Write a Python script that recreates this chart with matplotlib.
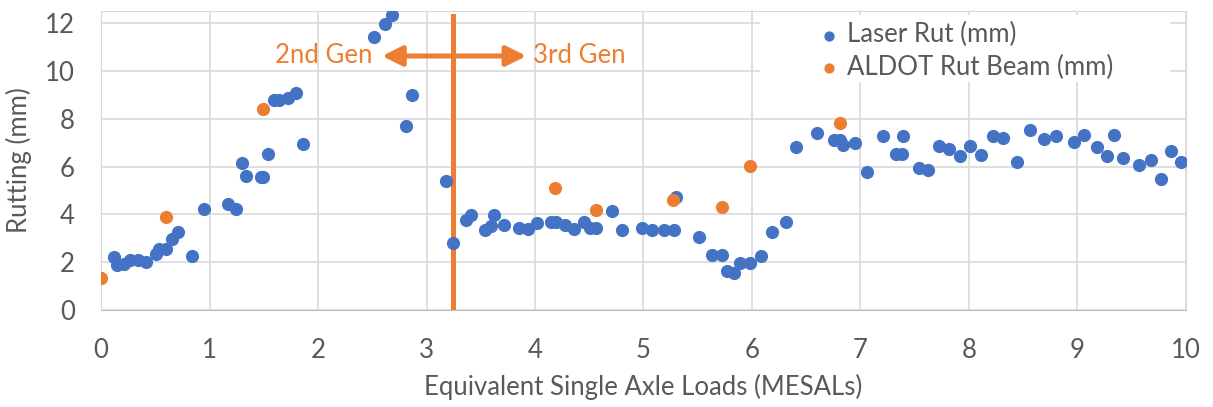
import matplotlib.pyplot as plt
from matplotlib.patches import Rectangle

plt.rcParams['font.family'] = ['Lato', 'DejaVu Sans']

# data
laser_x = [0.12, 0.15, 0.21, 0.27, 0.34, 0.41, 0.51, 0.53, 0.60, 0.65, 0.71, 0.84, 0.95,
           1.17, 1.24, 1.30, 1.34, 1.47, 1.49, 1.54, 1.59, 1.64, 1.72, 1.80, 1.86,
           2.52, 2.62, 2.68, 2.81, 2.87, 3.18, 3.24, 3.36, 3.41, 3.54, 3.59, 3.62, 3.71,
           3.85, 3.94, 4.02, 4.15, 4.19, 4.28, 4.36, 4.45, 4.51, 4.56, 4.71, 4.80, 4.99,
           5.08, 5.19, 5.28, 5.30, 5.51, 5.63, 5.72, 5.77, 5.83, 5.89, 5.98, 6.08, 6.18,
           6.31, 6.41, 6.60, 6.76, 6.81, 6.84, 6.95, 7.06, 7.21, 7.33, 7.38, 7.39, 7.54,
           7.62, 7.72, 7.82, 7.92, 8.01, 8.11, 8.22, 8.31, 8.44, 8.56, 8.69, 8.80, 8.97,
           9.06, 9.18, 9.27, 9.34, 9.42, 9.57, 9.68, 9.77, 9.86, 9.95]
laser_y = [2.20, 1.88, 1.92, 2.09, 2.08, 2.00, 2.34, 2.54, 2.54, 2.98, 3.28, 2.25, 4.24,
           4.42, 4.23, 6.16, 5.61, 5.56, 5.56, 6.53, 8.80, 8.80, 8.86, 9.08, 6.92,
           11.43, 11.94, 12.34, 7.71, 8.97, 5.38, 2.82, 3.78, 3.96, 3.33, 3.53, 3.96, 3.56,
           3.43, 3.38, 3.63, 3.67, 3.67, 3.56, 3.39, 3.70, 3.44, 3.44, 4.13, 3.35, 3.43,
           3.35, 3.35, 3.35, 4.72, 3.04, 2.30, 2.30, 1.63, 1.56, 1.97, 1.97, 2.25, 3.28,
           3.68, 6.82, 7.38, 7.09, 7.11, 6.90, 6.97, 5.77, 7.28, 6.53, 6.53, 7.28, 5.95,
           5.84, 6.86, 6.75, 6.42, 6.86, 6.47, 7.27, 7.21, 6.18, 7.54, 7.14, 7.27, 7.03,
           7.32, 6.82, 6.42, 7.32, 6.35, 6.07, 6.29, 5.49, 6.64, 6.18]

beam_x = [0.00, 0.60, 1.49, 4.18, 4.56, 5.27, 5.72, 5.98, 6.81]
beam_y = [1.34, 3.89, 8.41, 5.09, 4.18, 4.60, 4.30, 6.01, 7.82]

gen_split = 3.24
arrow_y = 10.62

blue = '#4472C4'
orange = '#ED7D31'
text_gray = '#595959'
fs = 18.5

fig = plt.figure(figsize=(12.13, 4.07), dpi=100)
ax = fig.add_axes([0.0833, 0.2383, 0.8944, 0.7346])

ax.scatter(laser_x, laser_y, s=72, color=blue, label='Laser Rut (mm)', zorder=3)
ax.scatter(beam_x, beam_y, s=72, color=orange, label='ALDOT Rut Beam (mm)', zorder=4)

# generation divider and arrows
ax.plot([gen_split, gen_split], [0, 12.3], color=orange, lw=3.6, zorder=2)
for tip in (2.59, 3.92):
    ax.annotate('', xy=(tip, arrow_y), xytext=(gen_split, arrow_y),
                arrowprops=dict(arrowstyle='-|>', color=orange, lw=3.6, mutation_scale=30,
                                shrinkA=0, shrinkB=0), zorder=2)
ax.text(2.50, arrow_y, '2nd Gen', color=orange, fontsize=fs, ha='right', va='center')
ax.text(3.98, arrow_y, '3rd Gen', color=orange, fontsize=fs, ha='left', va='center')

ax.set_xlim(0, 10)
ax.set_ylim(0, 12.5)
ax.set_xticks(range(0, 11))
ax.set_yticks(range(0, 13, 2))
ax.grid(True, color='#D9D9D9', lw=1.2, zorder=0)
ax.set_axisbelow(True)
ax.tick_params(length=0, labelsize=fs, colors=text_gray)
ax.tick_params(axis='x', pad=20)
ax.tick_params(axis='y', pad=19)
for s in ax.spines.values():
    s.set_color('#D9D9D9')
ax.spines['bottom'].set_color('#BFBFBF')

ax.set_xlabel('Equivalent Single Axle Loads (MESALs)', fontsize=fs, color=text_gray, labelpad=8)
ax.set_ylabel('Rutting (mm)', fontsize=fs, color=text_gray, labelpad=9)

# white legend box hiding the gridlines, as in the original
ax.add_patch(Rectangle((0.607, 0.763), 0.378, 0.224, transform=ax.transAxes,
                       facecolor='white', edgecolor='none', zorder=1))
leg = ax.legend(loc='upper left', bbox_to_anchor=(0.659, 0.962), fontsize=fs, frameon=False,
                handlelength=1, handletextpad=0.2, borderpad=0, borderaxespad=0,
                labelspacing=0.28, markerscale=0.75)
for t in leg.get_texts():
    t.set_color(text_gray)

fig.savefig('out.png', dpi=100)
